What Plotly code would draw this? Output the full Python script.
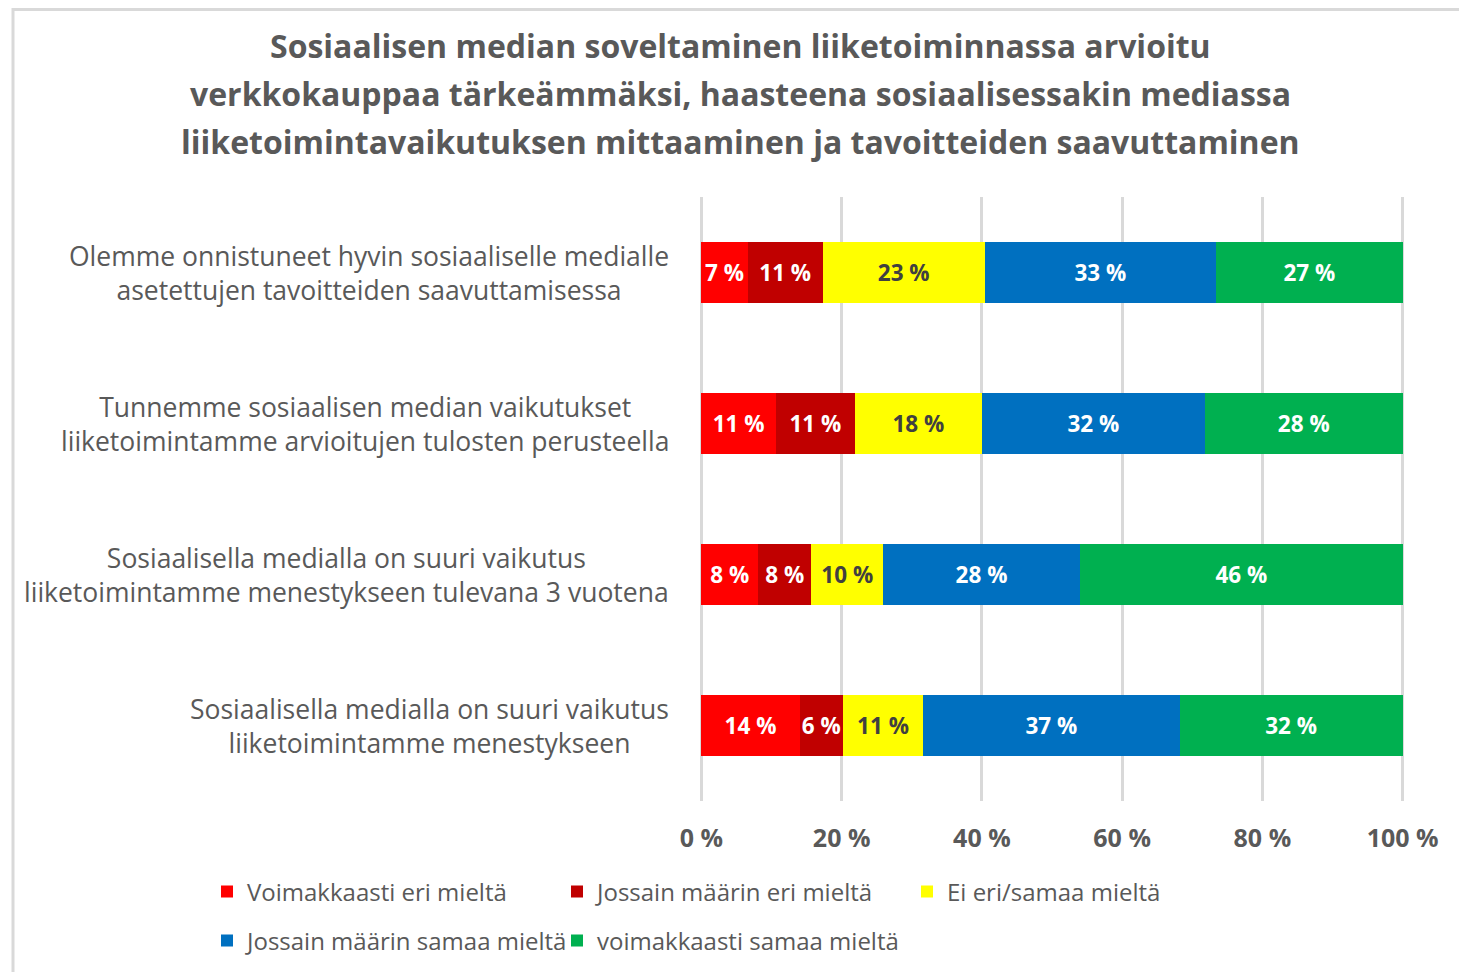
import plotly.graph_objects as go

categories = [
    "Olemme onnistuneet hyvin sosiaaliselle medialle<br>asetettujen tavoitteiden saavuttamisessa",
    "Tunnemme sosiaalisen median vaikutukset<br>liiketoimintamme arvioitujen tulosten perusteella",
    "Sosiaalisella medialla on suuri vaikutus<br>liiketoimintamme menestykseen tulevana 3 vuotena",
    "Sosiaalisella medialla on suuri vaikutus<br>liiketoimintamme menestykseen",
]
series_names = [
    "Voimakkaasti eri mieltä",
    "Jossain määrin eri mieltä",
    "Ei eri/samaa mieltä",
    "Jossain määrin samaa mieltä",
    "voimakkaasti samaa mieltä",
]
voimakkaasti_eri = [6.6, 10.6, 8.1, 14.0]
jossain_eri = [10.7, 11.3, 7.6, 6.2]
ei_eri_samaa = [23.1, 18.1, 10.2, 11.4]
jossain_samaa = [33.0, 31.8, 28.1, 36.6]
voimakkaasti_samaa = [26.6, 28.2, 46.0, 31.8]
series_values = [voimakkaasti_eri, jossain_eri, ei_eri_samaa, jossain_samaa, voimakkaasti_samaa]
colors = ["#FF0000", "#C00000", "#FFFF00", "#0070C0", "#00B050"]
text_colors = ["#FFFFFF", "#FFFFFF", "#404040", "#FFFFFF", "#FFFFFF"]
legend_ids = ["legend", "legend", "legend", "legend2", "legend2"]
tick_vals = [0, 20, 40, 60, 80, 100]
tick_text = ["0 %", "20 %", "40 %", "60 %", "80 %", "100 %"]
title_lines = [
    "Sosiaalisen median soveltaminen liiketoiminnassa arvioitu",
    "verkkokauppaa tärkeämmäksi, haasteena sosiaalisessakin mediassa",
    "liiketoimintavaikutuksen mittaaminen ja tavoitteiden saavuttaminen",
]

FONT = "Open Sans"
GRAY = "#595959"
OFF = 8  # page body margin
W, H = 1459, 964
PX0, PX1 = 700, 1404   # plot area in page pixels (x)
PY0, PY1 = 197, 801    # plot area in page pixels (y)
L = PX0 - OFF
T = PY0 - OFF
R = W - (PX1 - OFF)
B = H - (PY1 - OFF)
PW, PH = PX1 - PX0, PY1 - PY0
EPS = 0.2
XR = [0 - EPS, 100 + EPS]

def px_x(px):
    return (px - PX0) / PW

def px_y(py):
    return (PY1 - py) / PH

fig = go.Figure()
for name, vals, col, tcol, lg in zip(series_names, series_values, colors, text_colors, legend_ids):
    fig.add_trace(go.Bar(
        y=categories, x=vals, name=name, orientation="h",
        marker=dict(color=col, line=dict(width=0)),
        texttemplate="%{x:.0f} %", textposition="inside", insidetextanchor="middle",
        textangle=0, constraintext="none",
        textfont=dict(family=FONT, size=22.5, color=tcol, weight="bold"),
        legend=lg, hoverinfo="skip",
    ))

annotations = []
for i, line in enumerate(title_lines):
    annotations.append(dict(
        text=line, xref="paper", yref="paper", x=px_x(740), y=px_y(45 + 48 * i),
        xanchor="center", yanchor="middle", showarrow=False,
        font=dict(family=FONT, size=32, color=GRAY, weight="bold"),
    ))
for c in categories:
    annotations.append(dict(
        text=c, xref="paper", yref="y", x=px_x(671), y=c,
        xanchor="right", yanchor="middle", align="center", showarrow=False,
        font=dict(family=FONT, size=26.5, color=GRAY),
    ))

legend_common = dict(orientation="h", xanchor="left", yanchor="middle",
                     entrywidth=305, font=dict(family=FONT, size=24, color=GRAY),
                     traceorder="normal", bgcolor="rgba(0,0,0,0)")

fig.update_layout(
    width=W, height=H,
    margin=dict(l=L, r=R, t=T, b=B, autoexpand=False),
    paper_bgcolor="white", plot_bgcolor="white",
    barmode="stack", bargap=0.6,
    font=dict(family=FONT, color=GRAY),
    xaxis=dict(range=XR, tickvals=tick_vals, ticktext=tick_text,
               showgrid=True, gridcolor="#D9D9D9", gridwidth=2.5,
               zeroline=False, showline=False, ticks="",
               tickfont=dict(family=FONT, size=25, color=GRAY, weight="bold"),
               ticklabelstandoff=20, fixedrange=True),
    yaxis=dict(autorange="reversed", showticklabels=False, showgrid=False,
               zeroline=False, showline=False, ticks="", fixedrange=True),
    legend=dict(x=px_x(207), y=px_y(892), **legend_common),
    legend2=dict(x=px_x(207), y=px_y(941), **legend_common),
    annotations=annotations,
    shapes=[dict(type="rect", xref="paper", yref="paper",
                 x0=px_x(13), x1=px_x(1480), y0=px_y(9.6), y1=px_y(990),
                 line=dict(color="#D9D9D9", width=3), fillcolor="rgba(0,0,0,0)", layer="below")],
)

fig.write_html("out.html", config={"displayModeBar": False})
